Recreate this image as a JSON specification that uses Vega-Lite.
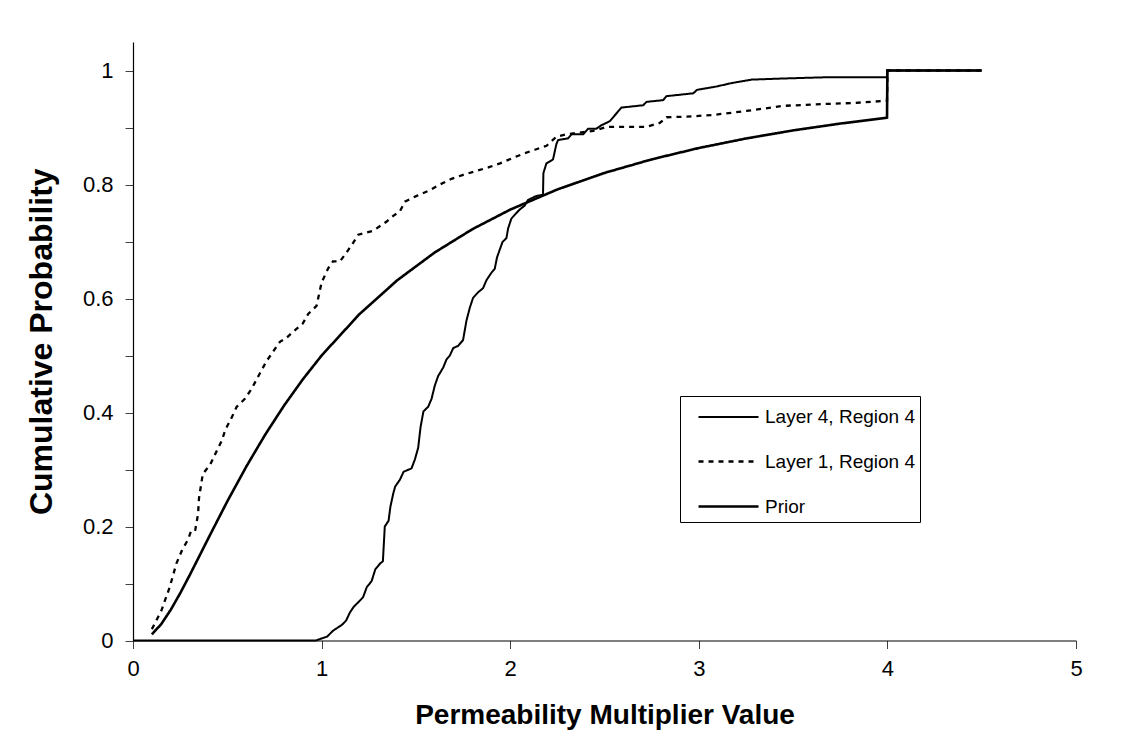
{
  "$schema": "https://vega.github.io/schema/vega-lite/v6.json",
  "width": 943,
  "height": 598.5,
  "autosize": {"type": "none"},
  "padding": {"left": 133, "top": 42, "right": 48, "bottom": 105},
  "background": "white",
  "data": {
    "values": [
      {"s": "Layer 4, Region 4", "i": 1, "x": 0, "y": 0},
      {"s": "Layer 4, Region 4", "i": 2, "x": 0.97, "y": 0},
      {"s": "Layer 4, Region 4", "i": 3, "x": 1.03, "y": 0.007},
      {"s": "Layer 4, Region 4", "i": 4, "x": 1.06, "y": 0.017},
      {"s": "Layer 4, Region 4", "i": 5, "x": 1.11, "y": 0.028},
      {"s": "Layer 4, Region 4", "i": 6, "x": 1.13, "y": 0.035},
      {"s": "Layer 4, Region 4", "i": 7, "x": 1.15, "y": 0.049},
      {"s": "Layer 4, Region 4", "i": 8, "x": 1.17, "y": 0.059},
      {"s": "Layer 4, Region 4", "i": 9, "x": 1.2, "y": 0.069},
      {"s": "Layer 4, Region 4", "i": 10, "x": 1.22, "y": 0.076},
      {"s": "Layer 4, Region 4", "i": 11, "x": 1.24, "y": 0.094},
      {"s": "Layer 4, Region 4", "i": 12, "x": 1.265, "y": 0.104},
      {"s": "Layer 4, Region 4", "i": 13, "x": 1.285, "y": 0.125},
      {"s": "Layer 4, Region 4", "i": 14, "x": 1.31, "y": 0.135},
      {"s": "Layer 4, Region 4", "i": 15, "x": 1.325, "y": 0.139},
      {"s": "Layer 4, Region 4", "i": 16, "x": 1.335, "y": 0.2},
      {"s": "Layer 4, Region 4", "i": 17, "x": 1.355, "y": 0.21},
      {"s": "Layer 4, Region 4", "i": 18, "x": 1.365, "y": 0.235},
      {"s": "Layer 4, Region 4", "i": 19, "x": 1.38, "y": 0.258},
      {"s": "Layer 4, Region 4", "i": 20, "x": 1.39, "y": 0.27},
      {"s": "Layer 4, Region 4", "i": 21, "x": 1.415, "y": 0.282},
      {"s": "Layer 4, Region 4", "i": 22, "x": 1.435, "y": 0.296},
      {"s": "Layer 4, Region 4", "i": 23, "x": 1.477, "y": 0.302},
      {"s": "Layer 4, Region 4", "i": 24, "x": 1.495, "y": 0.318},
      {"s": "Layer 4, Region 4", "i": 25, "x": 1.512, "y": 0.338},
      {"s": "Layer 4, Region 4", "i": 26, "x": 1.525, "y": 0.375},
      {"s": "Layer 4, Region 4", "i": 27, "x": 1.54, "y": 0.402},
      {"s": "Layer 4, Region 4", "i": 28, "x": 1.565, "y": 0.41},
      {"s": "Layer 4, Region 4", "i": 29, "x": 1.583, "y": 0.424},
      {"s": "Layer 4, Region 4", "i": 30, "x": 1.6, "y": 0.447},
      {"s": "Layer 4, Region 4", "i": 31, "x": 1.618, "y": 0.464},
      {"s": "Layer 4, Region 4", "i": 32, "x": 1.645, "y": 0.479},
      {"s": "Layer 4, Region 4", "i": 33, "x": 1.662, "y": 0.493},
      {"s": "Layer 4, Region 4", "i": 34, "x": 1.68, "y": 0.5},
      {"s": "Layer 4, Region 4", "i": 35, "x": 1.698, "y": 0.513},
      {"s": "Layer 4, Region 4", "i": 36, "x": 1.724, "y": 0.517},
      {"s": "Layer 4, Region 4", "i": 37, "x": 1.75, "y": 0.527},
      {"s": "Layer 4, Region 4", "i": 38, "x": 1.768, "y": 0.561},
      {"s": "Layer 4, Region 4", "i": 39, "x": 1.786, "y": 0.584},
      {"s": "Layer 4, Region 4", "i": 40, "x": 1.803, "y": 0.601},
      {"s": "Layer 4, Region 4", "i": 41, "x": 1.83, "y": 0.611},
      {"s": "Layer 4, Region 4", "i": 42, "x": 1.856, "y": 0.618},
      {"s": "Layer 4, Region 4", "i": 43, "x": 1.874, "y": 0.632},
      {"s": "Layer 4, Region 4", "i": 44, "x": 1.9, "y": 0.645},
      {"s": "Layer 4, Region 4", "i": 45, "x": 1.918, "y": 0.652},
      {"s": "Layer 4, Region 4", "i": 46, "x": 1.93, "y": 0.672},
      {"s": "Layer 4, Region 4", "i": 47, "x": 1.959, "y": 0.699},
      {"s": "Layer 4, Region 4", "i": 48, "x": 1.98, "y": 0.706},
      {"s": "Layer 4, Region 4", "i": 49, "x": 1.989, "y": 0.723},
      {"s": "Layer 4, Region 4", "i": 50, "x": 2.006, "y": 0.74},
      {"s": "Layer 4, Region 4", "i": 51, "x": 2.033, "y": 0.75},
      {"s": "Layer 4, Region 4", "i": 52, "x": 2.05, "y": 0.756},
      {"s": "Layer 4, Region 4", "i": 53, "x": 2.077, "y": 0.763},
      {"s": "Layer 4, Region 4", "i": 54, "x": 2.095, "y": 0.773},
      {"s": "Layer 4, Region 4", "i": 55, "x": 2.139, "y": 0.78},
      {"s": "Layer 4, Region 4", "i": 56, "x": 2.174, "y": 0.782},
      {"s": "Layer 4, Region 4", "i": 57, "x": 2.176, "y": 0.82},
      {"s": "Layer 4, Region 4", "i": 58, "x": 2.192, "y": 0.837},
      {"s": "Layer 4, Region 4", "i": 59, "x": 2.227, "y": 0.844},
      {"s": "Layer 4, Region 4", "i": 60, "x": 2.245, "y": 0.871},
      {"s": "Layer 4, Region 4", "i": 61, "x": 2.254, "y": 0.878},
      {"s": "Layer 4, Region 4", "i": 62, "x": 2.307, "y": 0.881},
      {"s": "Layer 4, Region 4", "i": 63, "x": 2.325, "y": 0.888},
      {"s": "Layer 4, Region 4", "i": 64, "x": 2.387, "y": 0.888},
      {"s": "Layer 4, Region 4", "i": 65, "x": 2.413, "y": 0.898},
      {"s": "Layer 4, Region 4", "i": 66, "x": 2.457, "y": 0.898},
      {"s": "Layer 4, Region 4", "i": 67, "x": 2.484, "y": 0.904},
      {"s": "Layer 4, Region 4", "i": 68, "x": 2.528, "y": 0.911},
      {"s": "Layer 4, Region 4", "i": 69, "x": 2.564, "y": 0.925},
      {"s": "Layer 4, Region 4", "i": 70, "x": 2.59, "y": 0.935},
      {"s": "Layer 4, Region 4", "i": 71, "x": 2.705, "y": 0.939},
      {"s": "Layer 4, Region 4", "i": 72, "x": 2.723, "y": 0.945},
      {"s": "Layer 4, Region 4", "i": 73, "x": 2.811, "y": 0.948},
      {"s": "Layer 4, Region 4", "i": 74, "x": 2.829, "y": 0.955},
      {"s": "Layer 4, Region 4", "i": 75, "x": 2.971, "y": 0.96},
      {"s": "Layer 4, Region 4", "i": 76, "x": 2.99, "y": 0.966},
      {"s": "Layer 4, Region 4", "i": 77, "x": 3.095, "y": 0.972},
      {"s": "Layer 4, Region 4", "i": 78, "x": 3.175, "y": 0.978},
      {"s": "Layer 4, Region 4", "i": 79, "x": 3.28, "y": 0.984},
      {"s": "Layer 4, Region 4", "i": 80, "x": 3.45, "y": 0.986},
      {"s": "Layer 4, Region 4", "i": 81, "x": 3.66, "y": 0.988},
      {"s": "Layer 4, Region 4", "i": 82, "x": 3.998, "y": 0.988},
      {"s": "Layer 4, Region 4", "i": 83, "x": 4.0, "y": 1.0},
      {"s": "Layer 4, Region 4", "i": 84, "x": 4.5, "y": 1.0},

      {"s": "Layer 1, Region 4", "i": 1, "x": 0.1, "y": 0.02},
      {"s": "Layer 1, Region 4", "i": 2, "x": 0.15, "y": 0.052},
      {"s": "Layer 1, Region 4", "i": 3, "x": 0.195, "y": 0.094},
      {"s": "Layer 1, Region 4", "i": 4, "x": 0.23, "y": 0.135},
      {"s": "Layer 1, Region 4", "i": 5, "x": 0.262, "y": 0.16},
      {"s": "Layer 1, Region 4", "i": 6, "x": 0.292, "y": 0.177},
      {"s": "Layer 1, Region 4", "i": 7, "x": 0.31, "y": 0.194},
      {"s": "Layer 1, Region 4", "i": 8, "x": 0.33, "y": 0.194},
      {"s": "Layer 1, Region 4", "i": 9, "x": 0.345, "y": 0.222},
      {"s": "Layer 1, Region 4", "i": 10, "x": 0.35, "y": 0.25},
      {"s": "Layer 1, Region 4", "i": 11, "x": 0.37, "y": 0.292},
      {"s": "Layer 1, Region 4", "i": 12, "x": 0.41, "y": 0.309},
      {"s": "Layer 1, Region 4", "i": 13, "x": 0.44, "y": 0.33},
      {"s": "Layer 1, Region 4", "i": 14, "x": 0.47, "y": 0.35},
      {"s": "Layer 1, Region 4", "i": 15, "x": 0.49, "y": 0.37},
      {"s": "Layer 1, Region 4", "i": 16, "x": 0.52, "y": 0.389},
      {"s": "Layer 1, Region 4", "i": 17, "x": 0.55, "y": 0.41},
      {"s": "Layer 1, Region 4", "i": 18, "x": 0.593, "y": 0.424},
      {"s": "Layer 1, Region 4", "i": 19, "x": 0.628, "y": 0.441},
      {"s": "Layer 1, Region 4", "i": 20, "x": 0.673, "y": 0.469},
      {"s": "Layer 1, Region 4", "i": 21, "x": 0.708, "y": 0.49},
      {"s": "Layer 1, Region 4", "i": 22, "x": 0.743, "y": 0.507},
      {"s": "Layer 1, Region 4", "i": 23, "x": 0.779, "y": 0.524},
      {"s": "Layer 1, Region 4", "i": 24, "x": 0.814, "y": 0.531},
      {"s": "Layer 1, Region 4", "i": 25, "x": 0.85, "y": 0.542},
      {"s": "Layer 1, Region 4", "i": 26, "x": 0.9, "y": 0.556},
      {"s": "Layer 1, Region 4", "i": 27, "x": 0.929, "y": 0.573},
      {"s": "Layer 1, Region 4", "i": 28, "x": 0.973, "y": 0.587},
      {"s": "Layer 1, Region 4", "i": 29, "x": 1.0, "y": 0.628},
      {"s": "Layer 1, Region 4", "i": 30, "x": 1.035, "y": 0.653},
      {"s": "Layer 1, Region 4", "i": 31, "x": 1.06, "y": 0.665},
      {"s": "Layer 1, Region 4", "i": 32, "x": 1.097, "y": 0.665},
      {"s": "Layer 1, Region 4", "i": 33, "x": 1.133, "y": 0.681},
      {"s": "Layer 1, Region 4", "i": 34, "x": 1.168, "y": 0.698},
      {"s": "Layer 1, Region 4", "i": 35, "x": 1.195, "y": 0.712},
      {"s": "Layer 1, Region 4", "i": 36, "x": 1.274, "y": 0.719},
      {"s": "Layer 1, Region 4", "i": 37, "x": 1.345, "y": 0.735},
      {"s": "Layer 1, Region 4", "i": 38, "x": 1.38, "y": 0.745},
      {"s": "Layer 1, Region 4", "i": 39, "x": 1.415, "y": 0.753},
      {"s": "Layer 1, Region 4", "i": 40, "x": 1.442, "y": 0.77},
      {"s": "Layer 1, Region 4", "i": 41, "x": 1.504, "y": 0.78},
      {"s": "Layer 1, Region 4", "i": 42, "x": 1.574, "y": 0.79},
      {"s": "Layer 1, Region 4", "i": 43, "x": 1.627, "y": 0.8},
      {"s": "Layer 1, Region 4", "i": 44, "x": 1.689, "y": 0.81},
      {"s": "Layer 1, Region 4", "i": 45, "x": 1.751, "y": 0.817},
      {"s": "Layer 1, Region 4", "i": 46, "x": 1.822, "y": 0.824},
      {"s": "Layer 1, Region 4", "i": 47, "x": 1.884, "y": 0.83},
      {"s": "Layer 1, Region 4", "i": 48, "x": 1.946, "y": 0.837},
      {"s": "Layer 1, Region 4", "i": 49, "x": 2.017, "y": 0.847},
      {"s": "Layer 1, Region 4", "i": 50, "x": 2.07, "y": 0.854},
      {"s": "Layer 1, Region 4", "i": 51, "x": 2.131, "y": 0.861},
      {"s": "Layer 1, Region 4", "i": 52, "x": 2.193, "y": 0.868},
      {"s": "Layer 1, Region 4", "i": 53, "x": 2.245, "y": 0.884},
      {"s": "Layer 1, Region 4", "i": 54, "x": 2.298, "y": 0.888},
      {"s": "Layer 1, Region 4", "i": 55, "x": 2.369, "y": 0.891},
      {"s": "Layer 1, Region 4", "i": 56, "x": 2.44, "y": 0.894},
      {"s": "Layer 1, Region 4", "i": 57, "x": 2.51, "y": 0.901},
      {"s": "Layer 1, Region 4", "i": 58, "x": 2.72, "y": 0.901},
      {"s": "Layer 1, Region 4", "i": 59, "x": 2.793, "y": 0.908},
      {"s": "Layer 1, Region 4", "i": 60, "x": 2.829, "y": 0.918},
      {"s": "Layer 1, Region 4", "i": 61, "x": 2.935, "y": 0.919},
      {"s": "Layer 1, Region 4", "i": 62, "x": 3.076, "y": 0.922},
      {"s": "Layer 1, Region 4", "i": 63, "x": 3.253, "y": 0.929},
      {"s": "Layer 1, Region 4", "i": 64, "x": 3.45, "y": 0.938},
      {"s": "Layer 1, Region 4", "i": 65, "x": 3.65, "y": 0.941},
      {"s": "Layer 1, Region 4", "i": 66, "x": 3.82, "y": 0.943},
      {"s": "Layer 1, Region 4", "i": 67, "x": 3.998, "y": 0.947},
      {"s": "Layer 1, Region 4", "i": 68, "x": 4.0, "y": 1.0},
      {"s": "Layer 1, Region 4", "i": 69, "x": 4.5, "y": 1.0},

      {"s": "Prior", "i": 1, "x": 0.1, "y": 0.0107},
      {"s": "Prior", "i": 2, "x": 0.15, "y": 0.0289},
      {"s": "Prior", "i": 3, "x": 0.2, "y": 0.0538},
      {"s": "Prior", "i": 4, "x": 0.25, "y": 0.0828},
      {"s": "Prior", "i": 5, "x": 0.3, "y": 0.1143},
      {"s": "Prior", "i": 6, "x": 0.35, "y": 0.1469},
      {"s": "Prior", "i": 7, "x": 0.4, "y": 0.1797},
      {"s": "Prior", "i": 8, "x": 0.5, "y": 0.2441},
      {"s": "Prior", "i": 9, "x": 0.6, "y": 0.3047},
      {"s": "Prior", "i": 10, "x": 0.7, "y": 0.3607},
      {"s": "Prior", "i": 11, "x": 0.8, "y": 0.4117},
      {"s": "Prior", "i": 12, "x": 0.9, "y": 0.458},
      {"s": "Prior", "i": 13, "x": 1.0, "y": 0.5},
      {"s": "Prior", "i": 14, "x": 1.2, "y": 0.5723},
      {"s": "Prior", "i": 15, "x": 1.4, "y": 0.6317},
      {"s": "Prior", "i": 16, "x": 1.6, "y": 0.6808},
      {"s": "Prior", "i": 17, "x": 1.8, "y": 0.7217},
      {"s": "Prior", "i": 18, "x": 2.0, "y": 0.7559},
      {"s": "Prior", "i": 19, "x": 2.25, "y": 0.7913},
      {"s": "Prior", "i": 20, "x": 2.5, "y": 0.8203},
      {"s": "Prior", "i": 21, "x": 2.75, "y": 0.8441},
      {"s": "Prior", "i": 22, "x": 3.0, "y": 0.864},
      {"s": "Prior", "i": 23, "x": 3.25, "y": 0.8807},
      {"s": "Prior", "i": 24, "x": 3.5, "y": 0.8949},
      {"s": "Prior", "i": 25, "x": 3.75, "y": 0.9069},
      {"s": "Prior", "i": 26, "x": 3.998, "y": 0.9172},
      {"s": "Prior", "i": 27, "x": 4.0, "y": 1.0},
      {"s": "Prior", "i": 28, "x": 4.5, "y": 1.0}
    ]
  },
  "mark": {"type": "line", "color": "black", "strokeCap": "butt", "strokeJoin": "miter"},
  "encoding": {
    "x": {
      "field": "x", "type": "quantitative",
      "scale": {"domain": [0, 5], "nice": false, "zero": false},
      "axis": {"title": "Permeability Multiplier Value", "values": [0, 1, 2, 3, 4, 5], "format": "~g", "labelPadding": 10, "titlePadding": 22, "titleFontSize": 28, "labelFlush": false}
    },
    "y": {
      "field": "y", "type": "quantitative",
      "scale": {"domain": [0, 1.05], "nice": false},
      "axis": {"title": "Cumulative Probability", "values": [0, 0.1, 0.2, 0.3, 0.4, 0.5, 0.6, 0.7, 0.8, 0.9, 1.0], "labelExpr": "round(datum.value*10)%2==0 ? format(datum.value,'~g') : ''", "labelPadding": 12, "titlePadding": 24, "titleFontSize": 32, "labelFlush": false}
    },
    "detail": {"field": "s"},
    "order": {"field": "i", "type": "quantitative"},
    "strokeDash": {
      "field": "s", "type": "ordinal",
      "scale": {"domain": ["Layer 4, Region 4", "Layer 1, Region 4", "Prior"], "range": [[1, 0], [5, 5], [1, 0]]},
      "legend": {"title": null}
    },
    "strokeWidth": {
      "field": "s", "type": "ordinal",
      "scale": {"domain": ["Layer 4, Region 4", "Layer 1, Region 4", "Prior"], "range": [2, 2.6, 5]},
      "legend": {"title": null}
    }
  },
  "config": {
    "view": {"stroke": null},
    "font": "Liberation Sans",
    "axis": {"grid": false, "domainColor": "black", "tickColor": "#404040", "labelColor": "black", "titleColor": "black", "labelFont": "Liberation Sans", "titleFont": "Liberation Sans", "labelFontSize": 22, "titleFontWeight": "bold", "tickSize": 8, "domainWidth": 1.2},
    "legend": {
      "orient": "none", "legendX": 547, "legendY": 354,
      "strokeColor": "black", "fillColor": "white", "padding": 5,
      "labelFont": "Liberation Sans", "labelFontSize": 19, "labelColor": "black", "labelLimit": 400,
      "symbolType": "M-0.2,0H3.8", "symbolSize": 900, "symbolStrokeColor": "black",
      "rowPadding": 18, "labelOffset": 47
    }
  }
}
